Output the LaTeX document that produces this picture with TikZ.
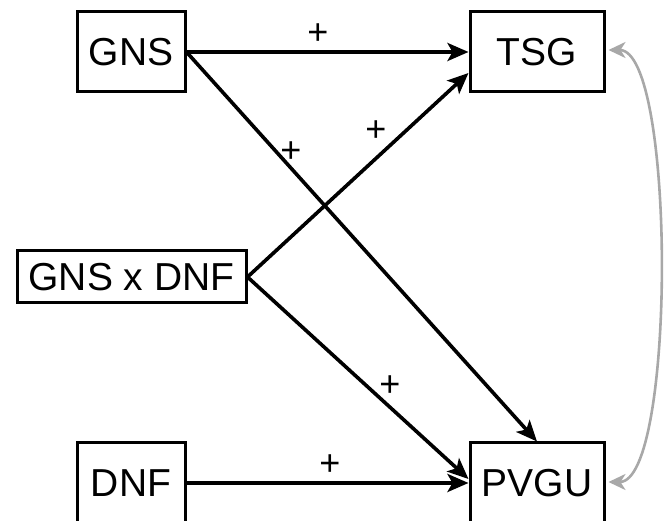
\documentclass[tikz,border=0pt]{standalone}
\usepackage{fontspec}
\setmainfont{Liberation Sans}
\usetikzlibrary{arrows.meta,calc}
\definecolor{lightgrayarrow}{RGB}{168,168,168}
\tikzset{
  box/.style={draw=black, line width=3pt, fill=white, inner sep=0pt,
    font=\fontsize{39}{41}\selectfont},
  link/.style={line width=3.6pt, -{Stealth[length=21pt,width=18pt,inset=5pt]}},
  glink/.style={draw=lightgrayarrow, line width=2.6pt,
    {Stealth[length=17pt,width=16pt,inset=5pt]}-{Stealth[length=17pt,width=16pt,inset=5pt]}},
  plus/.style={font=\fontsize{36}{38}\selectfont, inner sep=0pt}
}
\begin{document}
\begin{tikzpicture}[x=1pt,y=-1pt]
\useasboundingbox (0,0) rectangle (665,521);
\node[box, minimum width=108pt, minimum height=80pt] (GNS) at (131,52) {GNS};
\node[box, minimum width=134pt, minimum height=80pt] (TSG) at (537,52) {TSG};
\node[box, minimum width=229pt, minimum height=52pt] (GD) at (131.5,277) {GNS x DNF};
\node[box, minimum width=108pt, minimum height=80pt] (DNF) at (131,483) {DNF};
\node[box, minimum width=134pt, minimum height=80pt] (PVGU) at (537,483) {PVGU};

\draw[link] (GNS.east) -- (TSG.west);
\draw[link] (GNS.east) -- (PVGU.north);
\draw[link] (GD.east) -- ($(TSG.west)+(0,21)$);
\draw[link] (GD.east) -- ($(PVGU.west)+(0,-4)$);
\draw[link] (DNF.east) -- (PVGU.west);

\draw[glink] ($(TSG.east)+(3,-2)$) .. controls (676,50) and (676,482) .. ($(PVGU.east)+(3,-1)$);

\node[plus] (p1) at (318,34) {+};
\node[plus] (p2) at (291,152) {+};
\node[plus] (p3) at (376,131) {+};
\node[plus] (p4) at (390,386) {+};
\node[plus] (p5) at (330,465) {+};
\end{tikzpicture}
\end{document}
